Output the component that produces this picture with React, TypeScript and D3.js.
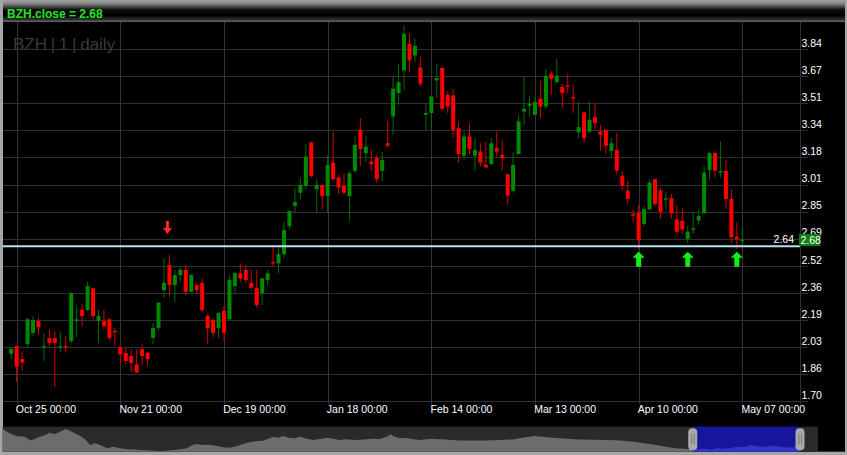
import React from 'react';
import * as d3 from 'd3';

// ---- data ----
const OPEN = [1.985,2.033,1.953,2.046,2.113,2.184,2.024,2.081,2.081,2.024,2.032,2.062,2.186,2.253,2.251,2.383,2.184,2.184,2.195,2.125,
2.024,1.991,1.971,1.921,2.014,1.991,2.083,2.143,2.373,2.525,2.403,2.464,2.495,2.363,2.403,2.417,2.215,2.190,2.143,2.247,
2.195,2.397,2.475,2.495,2.417,2.387,2.353,2.434,2.543,2.535,2.592,2.763,2.884,2.965,3.006,3.270,2.986,3.012,2.945,3.148,
3.057,3.006,2.945,3.097,3.347,3.205,3.154,3.175,3.097,3.266,3.428,3.570,3.708,3.869,3.799,3.726,3.438,3.449,3.647,3.723,
3.560,3.556,3.357,3.189,3.306,3.189,3.215,3.134,3.138,3.236,3.195,3.077,2.977,3.199,3.458,3.493,3.438,3.536,3.489,3.688,
3.637,3.607,3.617,3.546,3.331,3.452,3.337,3.424,3.337,3.347,3.219,3.225,3.067,2.976,2.836,2.844,2.775,2.864,3.047,2.977,
2.922,2.933,2.803,2.795,2.683,2.740,2.795,2.840,3.103,3.205,3.087,3.097,2.927,2.697,2.670];
const HIGH = [2.028,2.036,2.002,2.204,2.213,2.202,2.111,2.134,2.123,2.123,2.093,2.363,2.271,2.292,2.423,2.386,2.251,2.253,2.201,2.143,
2.048,2.024,2.012,2.014,2.042,1.997,2.174,2.302,2.566,2.586,2.495,2.515,2.525,2.468,2.413,2.444,2.231,2.201,2.235,2.276,
2.464,2.484,2.535,2.525,2.495,2.495,2.450,2.495,2.637,2.637,2.789,2.854,2.996,3.053,3.256,3.276,3.047,3.014,3.195,3.337,
3.073,3.083,3.097,3.306,3.418,3.306,3.225,3.195,3.215,3.398,3.672,3.747,3.980,3.930,3.899,3.790,3.505,3.550,3.749,3.726,
3.580,3.597,3.398,3.337,3.388,3.296,3.266,3.276,3.296,3.337,3.286,3.080,3.215,3.438,3.668,3.556,3.546,3.645,3.718,3.706,
3.779,3.627,3.688,3.617,3.519,3.458,3.519,3.510,3.377,3.347,3.296,3.327,3.093,3.037,2.860,2.890,2.881,3.043,3.047,2.996,
2.970,2.958,2.890,2.870,2.763,2.844,2.864,3.128,3.215,3.215,3.276,3.164,2.986,2.785,2.738];
const LOW = [1.953,1.815,1.883,2.024,2.095,2.103,1.943,2.032,1.784,1.994,1.994,2.052,2.089,2.154,2.245,2.195,2.052,2.134,2.069,2.032,
1.933,1.922,1.876,1.867,1.916,1.910,2.044,2.125,2.326,2.333,2.296,2.423,2.342,2.360,2.353,2.241,2.048,2.089,2.083,2.064,
2.195,2.353,2.423,2.413,2.373,2.265,2.282,2.403,2.515,2.475,2.566,2.743,2.844,2.925,2.986,3.057,2.844,2.864,2.844,3.040,
2.956,2.956,2.793,3.087,3.128,3.154,3.097,3.026,3.037,3.239,3.317,3.499,3.591,3.696,3.759,3.611,3.347,3.347,3.540,3.469,
3.449,3.300,3.150,3.164,3.195,3.099,3.124,3.118,3.134,3.184,3.103,2.890,2.965,3.199,3.377,3.428,3.438,3.418,3.475,3.560,
3.631,3.479,3.570,3.449,3.296,3.266,3.327,3.347,3.219,3.199,3.178,3.079,2.977,2.896,2.785,2.621,2.763,2.856,2.881,2.806,
2.864,2.806,2.706,2.714,2.658,2.714,2.769,2.840,3.047,3.059,3.057,2.866,2.658,2.622,2.647];
const CLOSE = [2.016,1.907,1.933,2.195,2.190,2.146,2.032,2.052,2.052,2.032,2.024,2.353,2.195,2.215,2.397,2.215,2.215,2.154,2.083,2.117,
1.983,1.943,1.930,1.872,1.973,1.953,2.143,2.296,2.417,2.403,2.464,2.495,2.363,2.464,2.373,2.251,2.143,2.113,2.235,2.113,
2.434,2.475,2.444,2.434,2.387,2.282,2.444,2.475,2.535,2.592,2.738,2.854,2.907,3.012,3.184,3.067,3.012,2.945,3.134,3.047,
2.996,2.965,3.083,3.256,3.230,3.245,3.138,3.047,3.164,3.250,3.597,3.637,3.930,3.769,3.858,3.627,3.449,3.550,3.662,3.475,
3.489,3.347,3.199,3.306,3.230,3.225,3.148,3.118,3.266,3.215,3.175,2.947,3.134,3.398,3.475,3.504,3.516,3.489,3.676,3.657,
3.676,3.570,3.611,3.538,3.363,3.296,3.408,3.388,3.317,3.250,3.266,3.099,3.008,2.927,2.825,2.677,2.864,3.026,2.896,2.848,
2.930,2.840,2.728,2.742,2.728,2.749,2.823,3.087,3.205,3.099,3.097,2.927,2.694,2.683,2.680];

const X_TICK_INDEX = [1, 20, 39, 58, 77, 96, 115, 134];
const X_TICK_LABELS = ['Oct 25 00:00', 'Nov 21 00:00', 'Dec 19 00:00', 'Jan 18 00:00', 'Feb 14 00:00', 'Mar 13 00:00', 'Apr 10 00:00', 'May 07 00:00'];
const Y_MIN = 1.697;
const Y_STEP = 0.1647;
const Y_TICK_COUNT = 14;
const SUPPORT = 2.64;
const BUY_SIGNALS = [115, 124, 133];
const SELL_SIGNALS = [29];
const SYMBOL = 'BZH';

// navigator history (bar index, close) before the visible window
const NAV_BARS = [0,9,18,27,35,44,53,59,65,74,79,87,97,104,109,115,122,130,138,147,155,163,172,180,188,197,205,213,222,230,237,243,250,259,268,275,284,293,300,309,318,325,330,338,344,350,359,365,371,380,388,396,405,413,421,430,438,446,455,463,471,480,484,490,496,505,513,521,536,553,570,586,604,621,637,651,665,684,705,721,739,756,772,790,806,823,840,857];
const NAV_CLOSE = [11.08,9.16,7.88,7.79,5.96,7.33,8.48,9.53,8.93,10.30,11.22,9.85,8.02,6.19,3.91,4.69,3.91,2.40,3.13,2.40,1.95,1.95,1.63,1.49,1.31,1.17,1.31,1.63,1.95,2.40,3.91,4.37,3.91,4.05,3.45,2.86,2.68,3.45,4.37,5.28,5.74,5.87,6.51,7.70,7.24,8.02,7.11,6.97,7.70,6.79,6.19,6.65,7.24,6.79,6.19,6.51,6.19,6.33,6.51,6.79,6.65,7.70,8.80,7.70,6.97,7.11,6.51,6.19,6.79,6.42,6.01,6.01,6.01,6.19,6.47,7.33,8.06,7.33,6.79,6.47,6.33,6.19,6.01,5.28,4.46,3.45,2.40,2.08];
const NAV_MAIN_START = 862;
const NAV_TOTAL = 997;

const W = 847;
const H = 455;

function arrowPath(x: number, tip: number, up: boolean, hw: number, hh: number, sw: number, th: number) {
  const s = up ? 1 : -1;
  const p = d3.path();
  p.moveTo(x, tip);
  p.lineTo(x + hw, tip + s * hh);
  p.lineTo(x + sw, tip + s * hh);
  p.lineTo(x + sw, tip + s * th);
  p.lineTo(x - sw, tip + s * th);
  p.lineTo(x - sw, tip + s * hh);
  p.lineTo(x - hw, tip + s * hh);
  p.closePath();
  return p.toString();
}

export default function App() {
  const N = CLOSE.length;
  const x = d3.scaleLinear().domain([0, N - 1]).range([11.2, 742.3]);
  const Y_MAX = Y_MIN + (Y_TICK_COUNT - 1) * Y_STEP;
  const y = d3.scaleLinear().domain([Y_MIN, Y_MAX]).range([401.3, 49]);
  const yTicks = d3.range(Y_TICK_COUNT).map((i) => Y_MIN + i * Y_STEP);

  const plotLeft = 3;
  const plotRight = 800;
  const plotTop = 22;
  const gridRight = 808;

  const bodyW = 4;
  const green = '#008a00';
  const greenWick = '#006e00';
  const red = '#ff0000';
  const redWick = '#d80000';

  // navigator
  const navTop = 426.7;
  const navBottom = 451.7;
  const navX = d3.scaleLinear().domain([0, NAV_TOTAL - 1]).range([2.7, 800]);
  const navY = d3.scaleLinear().domain([0.85, 12.25]).range([navBottom, navTop]);
  const navData: [number, number][] = [
    ...NAV_BARS.map((b, i) => [b, NAV_CLOSE[i]] as [number, number]),
    ...CLOSE.map((c, i) => [NAV_MAIN_START + i, c] as [number, number]),
  ];
  const navArea = d3
    .area<[number, number]>()
    .x((d) => navX(d[0]))
    .y0(navBottom)
    .y1((d) => navY(d[1]))(navData) as string;
  const selX0 = navX(NAV_MAIN_START);
  const selX1 = navX(NAV_TOTAL - 1);

  const font = 'Liberation Sans, Arial, sans-serif';
  const last = CLOSE[N - 1];
  const yLast = y(last);
  const ySup = y(SUPPORT);

  return (
    <svg width={W} height={H} style={{ position: 'fixed', left: 0, top: 0, display: 'block' }}>
      <defs>
        <linearGradient id="titleGrad" x1="0" y1="0" x2="0" y2="1">
          <stop offset="0" stopColor="#a2a2a2" />
          <stop offset="0.15" stopColor="#8a8a8a" />
          <stop offset="0.45" stopColor="#0c0c0c" />
          <stop offset="0.7" stopColor="#000000" />
          <stop offset="0.88" stopColor="#2c2c2c" />
          <stop offset="1" stopColor="#6a6a6a" />
        </linearGradient>
        <clipPath id="selClip">
          <rect x={selX0} y={navTop} width={selX1 - selX0} height={navBottom - navTop} />
        </clipPath>
      </defs>

      {/* frame */}
      <rect x={0} y={0} width={W} height={H} fill="#a6a6a6" />
      <rect x={3} y={0} width={842} height={22} fill="url(#titleGrad)" />
      <rect x={3} y={22} width={842} height={navBottom - 22} fill="#000" />
      <text x={7} y={18.3} fill="#22e622" fontFamily={font} fontSize={12} fontWeight="bold">
        {`${SYMBOL}.close = ${last.toFixed(2)}`}
      </text>

      {/* watermark */}
      <text x={13} y={50} fill="#3a3a3a" fontFamily={font} fontSize={17} wordSpacing={-1}>
        {`${SYMBOL} | 1 | daily`}
      </text>

      {/* horizontal grid */}
      {yTicks.map((t, i) => {
        const yy = Math.round(y(t)) + 0.5;
        return <line key={'hg' + i} x1={plotLeft} x2={gridRight} y1={yy} y2={yy} stroke="#303030" strokeWidth={1} />;
      })}
      {/* vertical grid */}
      {X_TICK_INDEX.map((idx, i) => {
        const xx = Math.round(x(idx)) + 0.5;
        return <line key={'vg' + i} x1={xx} x2={xx} y1={plotTop} y2={404} stroke="#353535" strokeWidth={1} />;
      })}
      {/* y axis line */}
      <line x1={800.5} x2={800.5} y1={plotTop} y2={404} stroke="#303030" />

      {/* candles */}
      {CLOSE.map((c, i) => {
        const o = OPEN[i];
        const up = c >= o;
        const cx = x(i);
        const yTop = y(Math.max(o, c));
        const yBot = y(Math.min(o, c));
        const h = Math.max(1.2, yBot - yTop);
        return (
          <g key={'c' + i}>
            <line x1={cx} x2={cx} y1={y(HIGH[i])} y2={y(LOW[i])} stroke={up ? greenWick : redWick} strokeWidth={1} />
            <rect x={cx - bodyW / 2} y={yTop} width={bodyW} height={h} fill={up ? green : red} />
          </g>
        );
      })}

      {/* support line */}
      <line x1={plotLeft} x2={plotRight} y1={ySup} y2={ySup} stroke="#b4e2ee" strokeWidth={2} />
      <text x={794} y={ySup - 3} fill="#ffffff" fontFamily={font} fontSize={10.5} textAnchor="end">
        {SUPPORT.toFixed(2)}
      </text>

      {/* signals */}
      {BUY_SIGNALS.map((idx) => (
        <path key={'b' + idx} d={arrowPath(x(idx), ySup + 5.5, true, 6, 6, 2.5, 15)} fill="#12f012" />
      ))}
      {SELL_SIGNALS.map((idx) => (
        <path key={'s' + idx} d={arrowPath(x(idx) - 2, y(HIGH[idx]) - 21, false, 4.5, 6, 1.5, 13)} fill="#ff2a2a" />
      ))}

      {/* y labels */}
      {yTicks.map((t, i) => (
        <text key={'yl' + i} x={801.5} y={y(t) - 2.3} fill="#ffffff" fontFamily={font} fontSize={10.5}>
          {t.toFixed(2)}
        </text>
      ))}
      {/* last price box (drawn over the neighbouring tick label, as in the reference) */}
      <rect x={799} y={yLast - 5.5} width={21.5} height={12} fill="#0b7e0b" />
      <text x={800.5} y={yLast + 4.3} fill="#ffffff" fontFamily={font} fontSize={10.5}>
        {last.toFixed(2)}
      </text>

      {/* x labels */}
      {X_TICK_INDEX.map((idx, i) => (
        <text key={'xl' + i} x={x(idx) - 0.8} y={413} fill="#ffffff" fontFamily={font} fontSize={10.5}>
          {X_TICK_LABELS[i]}
        </text>
      ))}

      {/* navigator */}
      <rect x={2.7} y={navTop} width={818 - 2.7} height={navBottom - navTop} fill="#2a2a2a" />
      <path d={navArea} fill="#6c6c6c" />
      <rect x={selX0} y={navTop} width={selX1 - selX0} height={navBottom - navTop} fill="#16169c" />
      <path d={navArea} fill="#3434c6" clipPath="url(#selClip)" />
      {[selX0, selX1].map((hx, i) => (
        <g key={'h' + i}>
          <rect x={hx - 4.5} y={navTop + 1.5} width={9} height={navBottom - navTop - 3} rx={4} fill="#a9a9a9" />
          <line x1={hx - 1} x2={hx - 1} y1={navTop + 7} y2={navBottom - 7} stroke="#7a7a7a" />
          <line x1={hx + 1.5} x2={hx + 1.5} y1={navTop + 7} y2={navBottom - 7} stroke="#7a7a7a" />
        </g>
      ))}
    </svg>
  );
}
